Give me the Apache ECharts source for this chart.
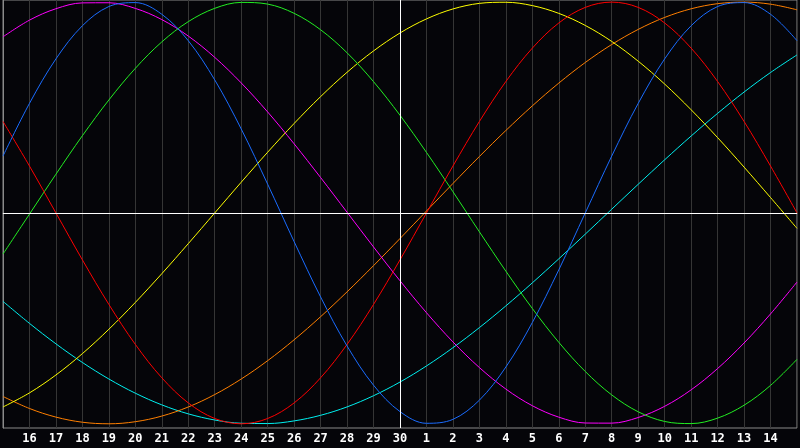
<!DOCTYPE html>
<html>
<head>
<meta charset="utf-8">
<script src="https://cdn.jsdelivr.net/npm/echarts@6/dist/echarts.min.js"></script>
<style>html,body{margin:0;padding:0;background:#050509;}#c{width:800px;height:448px;}</style>
</head>
<body>
<div id="c"></div>
<script>
// Day labels along the bottom (index 0 and 30 are the unlabelled edges)
const days = ['15','16','17','18','19','20','21','22','23','24','25','26','27','28','29','30',
              '1','2','3','4','5','6','7','8','9','10','11','12','13','14','15'];

// Curve values, one per day
const blueVals = [0.2698,0.5196,0.7307,0.8879,0.9791,0.9977,0.9423,0.8170,0.6311,0.3984,0.1362,-0.1362,-0.3984,-0.6311,-0.8170,-0.9423,
                  -0.9977,-0.9791,-0.8879,-0.7307,-0.5196,-0.2698,0.0000,0.2698,0.5196,0.7307,0.8879,0.9791,0.9977,0.9423,0.8170];
const redVals = [0.4339,0.2225,0.0000,-0.2225,-0.4339,-0.6235,-0.7818,-0.9010,-0.9749,-1.0000,-0.9749,-0.9010,-0.7818,-0.6235,-0.4339,-0.2225,
                 0.0000,0.2225,0.4339,0.6235,0.7818,0.9010,0.9749,1.0000,0.9749,0.9010,0.7818,0.6235,0.4339,0.2225,0.0000];
const greenVals = [-0.1949,-0.0057,0.1837,0.3664,0.5358,0.6859,0.8113,0.9073,0.9705,0.9986,0.9906,0.9468,0.8688,0.7596,0.6227,0.4633,
                   0.2872,0.1007,-0.0894,-0.2762,-0.4532,-0.6137,-0.7520,-0.8631,-0.9431,-0.9890,-0.9991,-0.9731,-0.9120,-0.8179,-0.6943];
const yellowVals = [-0.9203,-0.8535,-0.7685,-0.6672,-0.5517,-0.4244,-0.2881,-0.1456,0.0000,0.1456,0.2881,0.4244,0.5517,0.6672,0.7685,0.8535,
                    0.9203,0.9675,0.9940,0.9993,0.9834,0.9465,0.8893,0.8134,0.7198,0.6112,0.4894,0.3572,0.2174,0.0730,-0.0730];
const magentaVals = [0.8353,0.9144,0.9686,0.9963,0.9969,0.9702,0.9171,0.8390,0.7380,0.6168,0.4789,0.3278,0.1679,0.0033,-0.1613,-0.3216,
                     -0.4731,-0.6116,-0.7334,-0.8353,-0.9144,-0.9686,-0.9963,-0.9969,-0.9702,-0.9171,-0.8390,-0.7380,-0.6168,-0.4789,-0.3278];
const orangeVals = [-0.8705,-0.9274,-0.9683,-0.9926,-1.0000,-0.9902,-0.9635,-0.9203,-0.8614,-0.7877,-0.7006,-0.6015,-0.4921,-0.3742,-0.2500,-0.1214,
                    0.0092,0.1396,0.2677,0.3911,0.5079,0.6159,0.7136,0.7989,0.8705,0.9274,0.9683,0.9926,1.0000,0.9902,0.9635];
const cyanVals = [-0.4193,-0.5237,-0.6208,-0.7092,-0.7876,-0.8549,-0.9103,-0.9529,-0.9821,-0.9975,-0.9989,-0.9863,-0.9598,-0.9199,-0.8669,-0.8020,
                  -0.7257,-0.6393,-0.5438,-0.4408,-0.3315,-0.2176,-0.1006,0.0178,0.1359,0.2521,0.3648,0.4724,0.5734,0.6661,0.7496];

const todayIndex = 15;

const chart = echarts.init(document.getElementById('c'), null, {renderer: 'canvas'});

function line(name, data, color) {
  return {
    name: name, type: 'line', data: data, smooth: 0.35, showSymbol: false, symbol: 'none',
    lineStyle: {color: color, width: 1}, itemStyle: {color: color}, z: 3, silent: true
  };
}

chart.setOption({
  animation: false,
  backgroundColor: '#050509',
  grid: {left: 0, right: -2, top: 0, bottom: 20, show: true, borderColor: '#8a8a8a', borderWidth: 1, backgroundColor: 'transparent'},
  xAxis: {
    type: 'category', data: days, boundaryGap: false,
    axisLine: {show: true, lineStyle: {color: '#8a8a8a'}},
    axisTick: {show: false},
    splitLine: {show: true, lineStyle: {color: '#353535', width: 1}},
    axisLabel: {
      color: '#ffffff', fontFamily: 'DejaVu Sans Mono', fontWeight: 'bold', fontSize: 12, margin: 5,
      interval: 0,
      formatter: function (v, i) { return (i === 0 || i === days.length - 1) ? '' : v; }
    }
  },
  yAxis: {
    type: 'value', min: -1.02, max: 1.01,
    axisLine: {show: true, lineStyle: {color: '#8a8a8a'}},
    axisTick: {show: false}, axisLabel: {show: false}, splitLine: {show: false}
  },
  series: [
    {
      type: 'line', data: [], z: 1, silent: true,
      markLine: {
        silent: true, symbol: ['none', 'none'], label: {show: false},
        lineStyle: {color: '#ffffff', width: 1, type: 'solid'},
        data: [{xAxis: todayIndex}, {yAxis: 0}]
      }
    },
    line('cyan', cyanVals, '#00f0f0'),
    line('orange', orangeVals, '#ff7f00'),
    line('yellow', yellowVals, '#ffff00'),
    line('magenta', magentaVals, '#ff00ff'),
    line('green', greenVals, '#22ee22'),
    line('red', redVals, '#ff0000'),
    line('blue', blueVals, '#1a6cff')
  ]
});
</script>
</body>
</html>
